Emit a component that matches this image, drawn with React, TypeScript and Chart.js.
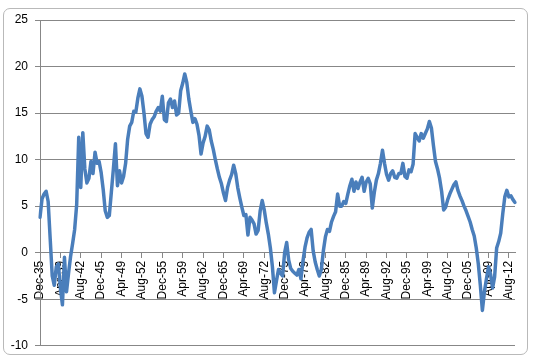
import React, { useEffect, useRef } from 'react';
import { Chart, registerables } from 'chart.js';

Chart.register(...registerables);

// Shown category labels (every 40 months)
const tickLabels = [
  'Dec-35', 'Apr-39', 'Aug-42', 'Dec-45', 'Apr-49', 'Aug-52', 'Dec-55', 'Apr-59',
  'Aug-62', 'Dec-65', 'Apr-69', 'Aug-72', 'Dec-75', 'Apr-79', 'Aug-82', 'Dec-85',
  'Apr-89', 'Aug-92', 'Dec-95', 'Apr-99', 'Aug-02', 'Dec-05', 'Apr-09', 'Aug-12',
];

// Series values, one every 4 months starting Dec-35
const values = [
  3.8, 5.8, 6.3, 6.6, 5.5, 1.5, -2.5, -3.5, -1.5, -1.2,
  -3.8, -5.6, -0.5, -4.2, -2.2, -0.4, 1.0, 2.5, 5.2, 12.4,
  7.0, 12.9, 9.0, 7.5, 8.0, 9.8, 8.5, 10.8, 9.6, 9.8,
  8.6, 6.8, 4.5, 3.8, 4.0, 6.5, 9.0, 11.7, 7.2, 8.8,
  7.5, 8.2, 9.6, 12.2, 13.6, 14.0, 15.2, 15.1, 16.6, 17.6,
  16.8, 15.0, 12.8, 12.4, 13.8, 14.3, 14.6, 15.2, 15.6, 15.2,
  16.8, 14.3, 14.1, 16.1, 16.5, 15.6, 16.3, 14.8, 15.0, 17.4,
  18.2, 19.2, 18.3, 16.5, 15.2, 14.0, 14.4, 13.8, 12.6, 10.6,
  11.8, 12.5, 13.6, 13.2, 12.0, 11.1, 10.0, 9.0, 8.1, 7.4,
  6.4, 5.6, 7.0, 7.8, 8.4, 9.4, 8.5, 7.0, 5.9, 4.9,
  4.0, 4.1, 1.9, 3.8, 3.5, 3.1, 2.0, 2.4, 4.5, 5.6,
  4.6, 3.2, 2.0, 0.5, -1.5, -4.3, -3.0, -1.8, -2.2, -2.5,
  0.0, 1.1, -0.8, -1.7, -2.0, -2.2, -2.4, -1.8, -2.8, -0.9,
  0.6, 1.6, 2.2, 2.5, 0.2, -1.0, -1.8, -2.5, -1.8, 0.2,
  1.7, 2.5, 2.3, 3.3, 3.9, 4.4, 6.3, 5.0, 5.0, 5.5,
  5.3, 6.3, 7.2, 7.9, 6.6, 7.6, 6.9, 7.6, 8.1, 6.6,
  7.6, 8.0, 7.4, 4.8, 6.5, 7.8, 8.5, 9.6, 11.0, 9.6,
  8.4, 7.8, 8.5, 8.8, 8.1, 8.0, 8.5, 8.5, 9.6, 8.2,
  8.0, 8.9, 8.7, 9.5, 12.8, 12.4, 12.0, 12.8, 12.3, 12.8,
  13.3, 14.1, 13.4, 11.5, 9.8, 9.0, 8.0, 6.6, 4.6, 4.9,
  5.7, 6.3, 6.8, 7.3, 7.6, 6.7, 6.1, 5.6, 5.0, 4.5,
  3.9, 3.3, 2.5, 1.8, 0.5, -1.2, -3.5, -6.2, -4.2, -2.8,
  -1.5, -2.3, -3.8, -2.6, 0.5, 1.2, 2.1, 4.2, 6.0, 6.7,
  6.0, 6.1, 5.7, 5.4,
];

const MONTHS = ['Jan', 'Feb', 'Mar', 'Apr', 'May', 'Jun', 'Jul', 'Aug', 'Sep', 'Oct', 'Nov', 'Dec'];
const categories = values.map((_, i) => {
  const m = 11 + 4 * i;
  const y = 1935 + Math.floor(m / 12);
  return `${MONTHS[m % 12]}-${String(y % 100).padStart(2, '0')}`;
});

const AXIS = '#878787';
const FONT = { family: '"Liberation Sans", Arial, sans-serif', size: 12 };

export default function App() {
  const ref = useRef<HTMLCanvasElement>(null);
  useEffect(() => {
    if (!ref.current) return;
    const chart = new Chart(ref.current, {
      type: 'line',
      data: {
        labels: categories,
        datasets: [
          {
            data: values,
            borderColor: '#4a7ebb',
            borderWidth: 3.5,
            pointRadius: 0,
            tension: 0,
            borderJoinStyle: 'round',
            borderCapStyle: 'round',
            fill: false,
          },
        ],
      },
      options: {
        responsive: false,
        animation: false,
        events: [],
        layout: { padding: { left: 0, top: 20, right: 18, bottom: 10.5 } },
        plugins: { legend: { display: false }, tooltip: { enabled: false } },
        scales: {
          x: {
            type: 'category',
            position: { y: 0 } as any,
            offset: false,
            grid: { display: true, drawOnChartArea: false, drawTicks: true, tickLength: 5, color: AXIS },
            border: { display: true, color: AXIS },
            ticks: {
              autoSkip: false,
              maxRotation: 90,
              minRotation: 90,
              padding: 3,
              color: '#000',
              font: FONT,
              callback: (_v: any, i: number) => tickLabels[i] ?? '',
            },
            afterBuildTicks: (scale: any) => {
              scale.ticks = scale.ticks.filter((t: any) => t.value % 10 === 0);
            },
          },
          y: {
            min: -10,
            max: 25,
            ticks: { stepSize: 5, padding: 7, color: '#000', font: FONT },
            grid: { color: AXIS, tickLength: 5 },
            border: { color: AXIS },
            afterFit: (scale: any) => {
              scale.width = 40;
            },
          },
        },
      },
    });
    return () => chart.destroy();
  }, []);

  return (
    <div style={{ position: 'fixed', left: 0, top: 0, width: 533, height: 360, background: '#fff' }}>
      <div
        style={{
          position: 'absolute',
          left: 3,
          top: 8,
          width: 525,
          height: 347,
          border: '1px solid #b9b9b9',
          borderRadius: 7,
          boxSizing: 'border-box',
        }}
      />
      <canvas ref={ref} width={533} height={360} style={{ position: 'absolute', left: 0, top: 0 }} />
    </div>
  );
}
